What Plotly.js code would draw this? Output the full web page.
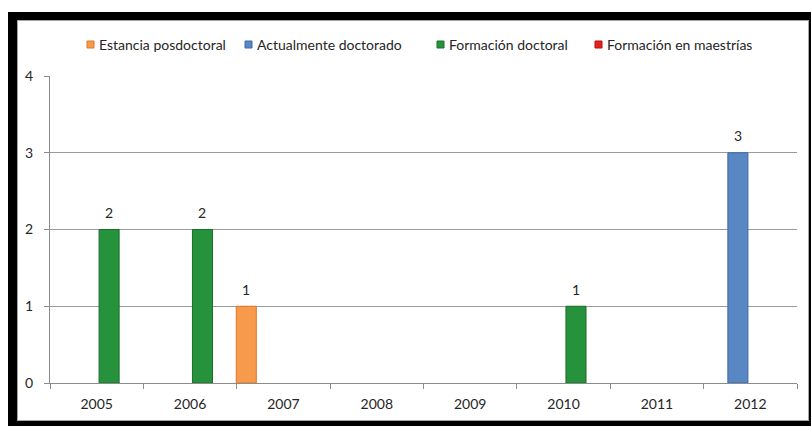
<!DOCTYPE html>
<html>
<head>
<meta charset="utf-8">
<script src="https://cdn.plot.ly/plotly-3.0.1.min.js"></script>
<style>
  html, body { margin: 0; padding: 0; background: #ffffff; width: 811px; height: 426px; overflow: hidden; }
  #frame { position: absolute; left: 8px; top: 12px; width: 803px; height: 414px; background: #000000; }
  #inner { position: absolute; left: 9px; top: 8px; width: 790px; height: 399px; background: #ffffff; border: 1px solid #a6a6a6; }
  #chart { position: absolute; left: 0; top: 0; width: 790px; height: 399px; }
</style>
</head>
<body>
<div id="frame"><div id="inner"><div id="chart"></div></div></div>
<script>
// ---- data ----
const years = ["2005", "2006", "2007", "2008", "2009", "2010", "2011", "2012"];
const seriesNames = ["Estancia posdoctoral", "Actualmente doctorado", "Formación doctoral", "Formación en maestrías"];
const estanciaPosdoctoral  = [null, null, 1, null, null, null, null, null];
const actualmenteDoctorado = [null, null, null, null, null, null, null, 3];
const formacionDoctoral    = [2, 2, null, null, null, 1, null, null];
const formacionMaestrias   = [null, null, null, null, null, null, null, null];
const yTicks = [0, 1, 2, 3, 4];

// ---- styles ----
const fills   = ["#f79a4c", "#5887c4", "#27923c", "#e8201c"];
const edges   = ["#d9782e", "#3f6aa3", "#1c6e2c", "#b01010"];
const centers = [-0.398, -0.133, 0.133, 0.398];   // bar centre offsets within a category
const barW = 0.215;
const font = "Lato, 'Open Sans', 'DejaVu Sans', sans-serif";

const values = [estanciaPosdoctoral, actualmenteDoctorado, formacionDoctoral, formacionMaestrias];
const traces = values.map((v, i) => ({
  type: "bar",
  name: seriesNames[i],
  x: years,
  y: v,
  width: barW,
  offset: centers[i] - barW / 2,
  marker: { color: fills[i], line: { color: edges[i], width: 1 } },
  showlegend: false,
  hoverinfo: "x+y+name"
}));

// data labels above bars, placed through the axes from the data arrays
// (category axis: annotation x is the category's serial index)
const dataLabels = [];
values.forEach((v, i) => v.forEach((d, j) => {
  if (d == null) return;
  dataLabels.push({
    xref: "x", yref: "y", x: j + centers[i], y: d,
    yshift: 17,
    xanchor: "center", yanchor: "middle",
    text: String(d), showarrow: false,
    font: { family: font, size: 14, color: "#262626" }
  });
}));

// custom legend (Excel style: small square right next to the text)
const plotLeft = 50 - 18, plotW = 747;     // plot area in chart-div pixels
const legendTextX = [97, 255, 447, 605];   // page px where each label starts
const toPaper = px => (px - 18 - plotLeft) / plotW;
const legendYPaper = (383 - 44.5) / 307;
const legendText = seriesNames.map((n, i) => ({
  xref: "paper", yref: "paper",
  x: toPaper(legendTextX[i]), y: legendYPaper,
  xanchor: "left", yanchor: "middle",
  text: n, showarrow: false,
  font: { family: font, size: 14, color: "#262626" }
}));
const shapes = seriesNames.map((n, i) => ({
  type: "rect", xref: "paper", yref: "paper",
  x0: toPaper(legendTextX[i] - 10), x1: toPaper(legendTextX[i] - 3),
  y0: legendYPaper - 3.5 / 307, y1: legendYPaper + 3.5 / 307,
  fillcolor: fills[i], line: { color: edges[i], width: 1 }
}));

const layout = {
  width: 790, height: 399,
  margin: { l: 32, r: 11, t: 55, b: 37 },
  paper_bgcolor: "#ffffff",
  plot_bgcolor: "#ffffff",
  barmode: "overlay",
  showlegend: false,
  font: { family: font, size: 14, color: "#262626" },
  xaxis: {
    type: "category",
    categoryorder: "array", categoryarray: years,
    range: [-0.5, years.length - 0.5],
    showline: true, linecolor: "#8c8c8c", linewidth: 1,
    ticks: "outside", tickson: "boundaries", ticklen: 5, tickcolor: "#8c8c8c",
    showgrid: false, zeroline: false,
    tickfont: { family: font, size: 14, color: "#262626" },
    ticklabelstandoff: 8
  },
  yaxis: {
    range: [0, 4], tickvals: yTicks, ticktext: yTicks.map(String),
    showline: true, linecolor: "#8c8c8c", linewidth: 1,
    ticks: "outside", ticklen: 5, tickcolor: "#8c8c8c",
    showgrid: true, gridcolor: "#9a9a9a", gridwidth: 1,
    zeroline: false,
    tickfont: { family: font, size: 14, color: "#262626" },
    ticklabelstandoff: 8
  },
  annotations: dataLabels.concat(legendText),
  shapes: shapes
};

Plotly.newPlot("chart", traces, layout, { displayModeBar: false, staticPlot: true });
</script>
</body>
</html>
